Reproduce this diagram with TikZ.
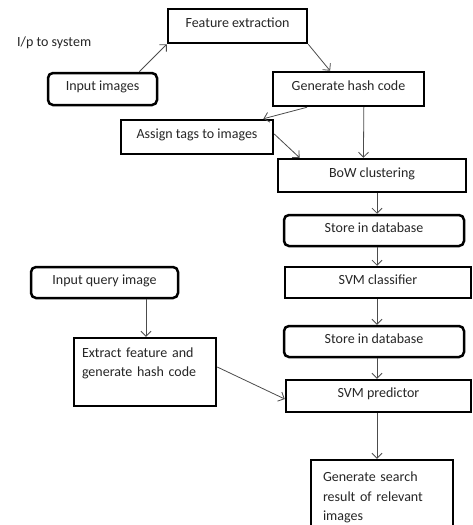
\documentclass[tikz,border=0pt]{standalone}
\usepackage{fontspec}
\setmainfont{Carlito}
\usetikzlibrary{arrows.meta,calc}
\begin{document}
\begin{tikzpicture}[x=1pt,y=-1pt,
  every node/.style={font=\fontsize{14}{19.5}\selectfont, text=black!85},
  sqbox/.style={draw=black, line width=2.5pt, inner sep=0pt, align=center},
  rbox/.style={sqbox, rounded corners=5pt},
  oneline/.style={text height=10pt, text depth=7pt},
  arr/.style={draw=black!70, line width=0.8pt, -{Straight Barb[length=5pt,width=10pt]}}]
\useasboundingbox[fill=white] (0,0) rectangle (472,525);

% nodes of the indexing pipeline
\node[sqbox, oneline, minimum width=139, minimum height=34] (fe)  at (237.5,26) {Feature extraction};
\node[rbox,  oneline, minimum width=109, minimum height=32] (inimg) at (102.5,89) {Input images};
\node[sqbox, oneline, minimum width=151, minimum height=34] (ghc) at (348.5,89) {Generate hash code};
\node[sqbox, oneline, minimum width=152, minimum height=34] (tags) at (197,137) {Assign tags to images};
\node[sqbox, oneline, minimum width=188, minimum height=33] (bow) at (372,175.5) {BoW clustering};
\node[rbox,  oneline, minimum width=180, minimum height=31] (db1) at (374,230.5) {Store in database};
\node[sqbox, oneline, minimum width=186, minimum height=31] (svmc) at (378,282.5) {SVM classifier};
\node[rbox,  oneline, minimum width=180, minimum height=31] (db2) at (374,341.5) {Store in database};

% query path
\node[rbox,  oneline, minimum width=147, minimum height=31] (query) at (104.5,282.5) {Input query image};
\node[sqbox, minimum width=142, minimum height=68, text width=126, align=left, inner xsep=8pt] (ext) at (145,372)
  {Extract feature and\\generate hash code\\\mbox{}};
\node[sqbox, oneline, minimum width=185, minimum height=32] (svmp) at (378.5,396) {SVM predictor};
\node[sqbox, minimum width=142, minimum height=75, text width=118, align=left, inner xsep=12pt] (res) at (382,497.5)
  {Generate search\\result of relevant\\images};

\node[anchor=west, inner sep=0pt] (lbl) at (17,43) {I/p to system};

% connectors
\coordinate (vx) at (377,0);
\draw[arr] ($(inimg.north west)!0.83!(inimg.north east)$) -- (fe.south west);
\draw[arr] (fe.south east) -- ($(ghc.north west)!0.38!(ghc.north east)$);
\draw[arr] ($(ghc.south west)!0.23!(ghc.south east)$) -- ($(tags.north west)!0.93!(tags.north east)$);
\draw[arr] ($(ghc.south west)!0.6!(ghc.south east)$) -- ($(bow.north west)!0.455!(bow.north east)$);
\draw[arr] ([yshift=3]tags.east) -- ($(bow.north west)!0.12!(bow.north east)$);
\draw[arr] (bow.south -| vx) -- (db1.north -| vx);
\draw[arr] (db1.south -| vx) -- (svmc.north -| vx);
\draw[arr] (svmc.south -| vx) -- (db2.north -| vx);
\draw[arr] (db2.south -| vx) -- (svmp.north -| vx);
\draw[arr] (svmp.south -| vx) -- (res.north -| vx);
\draw[arr] ([xshift=41.5]query.south) -- ([xshift=1]ext.north);
\draw[arr] ([yshift=5]ext.east) -- ([yshift=-3]svmp.west);
\end{tikzpicture}
\end{document}
